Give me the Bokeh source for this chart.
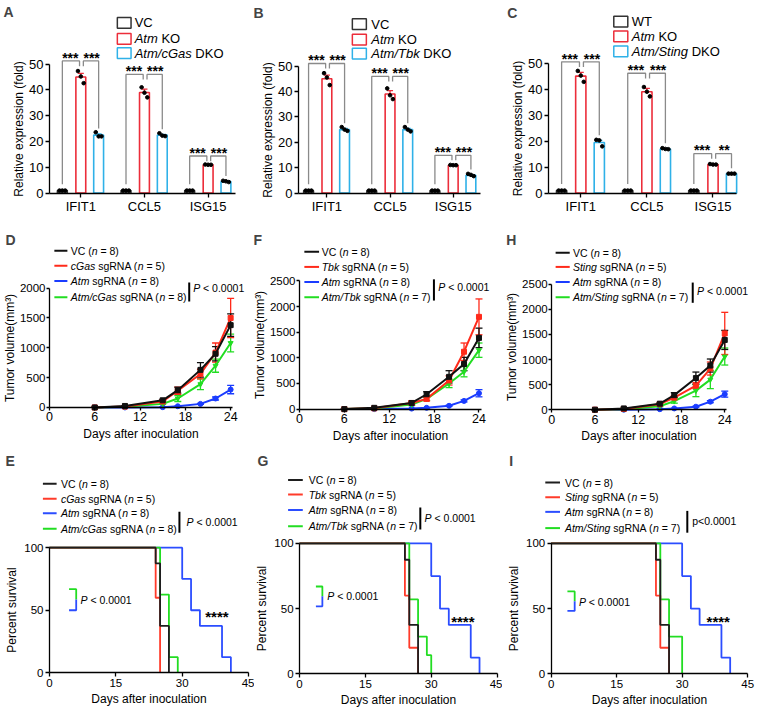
from bokeh.plotting import figure
from bokeh.models import Label, FixedTicker, Range1d, Whisker, TeeHead, ColumnDataSource
from bokeh.layouts import column, row
from bokeh.embed import file_html
from bokeh.resources import INLINE

FONT = "Liberation Sans"

# ======================= DATA =======================
genes = ["IFIT1", "CCL5", "ISG15"]

# Panel A : Atm / cGas
a_vc = [1.0, 1.0, 1.0]
a_ko = [45.0, 39.0, 11.0]
a_ko_sem = [1.4, 1.3, 0.15]
a_dko = [22.5, 22.5, 4.5]
a_dko_sem = [0.5, 0.3, 0.15]
a_vc_pts = [[1.0, 1.0, 1.0], [1.0, 1.0, 1.0], [1.0, 1.0, 1.0]]
a_ko_pts = [[47.3, 45.2, 42.6], [41.0, 38.9, 37.1], [11.1, 11.0, 11.0]]
a_dko_pts = [[23.6, 22.0, 22.0], [23.2, 22.3, 22.1], [4.8, 4.6, 4.3]]
a_brk = [51.2, 46.0, 14.4]
a_sig = [["***", "***"], ["***", "***"], ["***", "***"]]

# Panel B : Atm / Tbk
b_vc = [1.0, 1.0, 1.0]
b_ko = [45.0, 39.0, 11.0]
b_ko_sem = [1.4, 1.3, 0.15]
b_dko = [25.0, 25.0, 7.0]
b_dko_sem = [0.5, 0.5, 0.3]
b_vc_pts = [[1.0, 1.0, 1.0], [1.0, 1.0, 1.0], [1.0, 1.0, 1.0]]
b_ko_pts = [[47.2, 45.5, 42.5], [41.2, 38.5, 37.0], [11.1, 11.0, 11.0]]
b_dko_pts = [[26.0, 25.0, 24.5], [26.0, 25.0, 24.3], [7.6, 7.2, 6.7]]
b_brk = [51.0, 45.9, 14.9]
b_sig = [["***", "***"], ["***", "***"], ["***", "***"]]

# Panel C : Atm / Sting
c_vc = [1.0, 1.0, 1.0]
c_ko = [45.0, 39.0, 11.0]
c_ko_sem = [1.4, 1.3, 0.15]
c_dko = [19.5, 17.0, 7.5]
c_dko_sem = [0.8, 0.2, 0.1]
c_vc_pts = [[1.0, 1.0, 1.0], [1.0, 1.0, 1.0], [1.0, 1.0, 1.0]]
c_ko_pts = [[47.0, 45.2, 42.8], [40.8, 39.0, 37.2], [11.2, 11.0, 11.0]]
c_dko_pts = [[20.5, 20.3, 18.0], [17.3, 17.0, 16.9], [7.5, 7.5, 7.5]]
c_brk = [50.5, 46.1, 15.2]
c_sig = [["***", "***"], ["***", "***"], ["***", "**"]]

# Tumor growth (days after inoculation)
days = [6, 10, 15, 17, 20, 22, 24]

d_vc = [0, 25, 120, 290, 630, 900, 1380]
d_vc_err = [0, 5, 15, 50, 120, 120, 190]
d_ko2 = [0, 15, 100, 280, 560, 920, 1500]
d_ko2_err = [0, 5, 15, 60, 80, 160, 330]
d_atm = [0, 0, 5, 20, 60, 150, 300]
d_atm_err = [0, 0, 3, 5, 10, 25, 70]
d_dko = [0, 10, 60, 150, 390, 700, 1080]
d_dko_err = [0, 3, 10, 50, 90, 110, 150]

f_vc = [0, 25, 120, 290, 630, 880, 1390]
f_vc_err = [0, 5, 15, 50, 120, 130, 190]
f_ko2 = [0, 15, 120, 200, 560, 1120, 1800]
f_ko2_err = [0, 5, 40, 40, 90, 170, 350]
f_atm = [0, 0, 10, 25, 65, 160, 310]
f_atm_err = [0, 0, 3, 5, 10, 20, 70]
f_dko = [0, 10, 90, 200, 500, 730, 1150]
f_dko_err = [0, 3, 20, 30, 80, 100, 140]

h_vc = [0, 25, 120, 290, 630, 880, 1390]
h_vc_err = [0, 5, 15, 50, 120, 130, 190]
h_ko2 = [0, 15, 110, 240, 480, 820, 1520]
h_ko2_err = [0, 5, 15, 40, 60, 130, 420]
h_atm = [0, 0, 10, 25, 60, 160, 310]
h_atm_err = [0, 0, 3, 5, 10, 20, 60]
h_dko = [0, 10, 70, 170, 380, 600, 1060]
h_dko_err = [0, 3, 10, 40, 120, 180, 170]

# Survival (time in days, percent survival)
e_vc_t = [0, 24, 25, 27]
e_vc_s = [100, 87.5, 37.5, 0]
e_ko2_t = [0, 24, 25]
e_ko2_s = [100, 60, 0]
e_atm_t = [0, 30, 32, 34, 39, 41]
e_atm_s = [100, 75, 50, 37.5, 12.5, 0]
e_dko_t = [0, 25, 27, 29]
e_dko_s = [100, 62.5, 12.5, 0]

g_vc_t = [0, 24, 25, 27]
g_vc_s = [100, 87.5, 37.5, 0]
g_ko2_t = [0, 24, 25, 27]
g_ko2_s = [100, 60, 20, 0]
g_atm_t = [0, 30, 32, 34, 39, 41]
g_atm_s = [100, 75, 50, 37.5, 12.5, 0]
g_dko_t = [0, 25, 27, 29, 30]
g_dko_s = [100, 57.1, 28.6, 14.3, 0]

i_vc_t = [0, 24, 25, 27]
i_vc_s = [100, 87.5, 37.5, 0]
i_ko2_t = [0, 24, 25, 27]
i_ko2_s = [100, 60, 20, 0]
i_atm_t = [0, 30, 32, 34, 39, 41]
i_atm_s = [100, 75, 50, 37.5, 12.5, 0]
i_dko_t = [0, 25, 27, 30]
i_dko_s = [100, 57.1, 28.6, 0]

# ======================= HELPERS =======================
SX = 759.0 / 775.0
SY = 712.0 / 728.0

AW = {' ': 278, '(': 333, ')': 333, '*': 389, '.': 278, '/': 278, '<': 584, '=': 584,
      'A': 667, 'B': 667, 'C': 722, 'D': 722, 'E': 667, 'F': 611, 'G': 778, 'H': 722,
      'I': 278, 'K': 667, 'L': 556, 'N': 722, 'O': 778, 'P': 667, 'R': 722, 'S': 667,
      'T': 611, 'V': 667, 'W': 944,
      'a': 556, 'b': 556, 'c': 500, 'd': 556, 'e': 556, 'f': 278, 'g': 556, 'h': 556,
      'i': 222, 'k': 500, 'l': 222, 'm': 833, 'n': 556, 'o': 556, 'p': 556, 'r': 333,
      's': 500, 't': 278, 'u': 556, 'v': 500}


def tw(s, size):
    return sum(AW.get(ch, 556) for ch in s) * size / 1000.0


def add_text(p, x, y, segs, size, align="left", baseline="middle", bold=False, color="black"):
    if len(segs) == 1 and not segs[0][0].startswith(" "):
        t, it = segs[0]
        style = ("bold " if bold else "") + ("italic" if it else "")
        p.add_layout(Label(x=x, y=y, text=t, text_font=FONT, text_font_size=f"{size}px",
                           text_font_style=style.strip() or "normal", text_align=align,
                           text_baseline=baseline, text_color=color))
        return
    off = 0.0
    for t, it in segs:
        stripped = t.lstrip(" ")
        lead = tw(t[:len(t) - len(stripped)], size)
        if stripped:
            p.add_layout(Label(x=x, y=y, x_offset=off + lead, text=stripped, text_font=FONT,
                               text_font_size=f"{size}px",
                               text_font_style="italic" if it else "normal",
                               text_align="left", text_baseline=baseline, text_color=color))
        off += tw(t, size)


def make_panel(W, H, col0, row0, xcal, ycal):
    """Figure whose frame covers the whole panel; positions given in reference pixels."""
    (px1, v1), (px2, v2) = xcal
    kx = (v2 - v1) / (px2 - px1)
    (py1, w1), (py2, w2) = ycal
    ky = (w2 - w1) / (py2 - py1)

    def rx(X):
        return v1 + (X - px1) * kx

    def ry(Y):
        return w1 + (Y - py1) * ky

    p = figure(width=W, height=H,
               x_range=Range1d(rx(col0), rx(col0 + W / SX)),
               y_range=Range1d(ry(row0 + H / SY), ry(row0)),
               min_border_left=0, min_border_right=0, min_border_top=0, min_border_bottom=0,
               output_backend="svg", toolbar_location=None)
    p.outline_line_color = None
    p.xgrid.visible = False
    p.ygrid.visible = False
    p.background_fill_color = "white"
    p.border_fill_color = "white"
    return p, rx, ry


def style_axes(p, xlabel, ylabel, tick_size, x_at, y_at, tick_out=4, tick_standoff=2,
               label_standoff=2, label_size=12):
    for ax in (p.xaxis[0], p.yaxis[0]):
        ax.axis_line_width = 1.3
        ax.axis_line_color = "black"
        ax.major_tick_line_width = 1.3
        ax.major_tick_line_color = "black"
        ax.major_tick_out = tick_out
        ax.major_tick_in = 0
        ax.minor_tick_line_color = None
        ax.major_label_text_font = FONT
        ax.major_label_text_font_size = f"{tick_size}px"
        ax.major_label_text_color = "black"
        ax.major_label_standoff = tick_standoff
        ax.axis_label_text_font = FONT
        ax.axis_label_text_font_size = f"{label_size}px"
        ax.axis_label_text_font_style = "normal"
        ax.axis_label_text_color = "black"
        ax.axis_label_standoff = label_standoff
    p.xaxis[0].fixed_location = x_at
    p.yaxis[0].fixed_location = y_at
    if xlabel:
        p.xaxis.axis_label = xlabel
    if ylabel:
        p.yaxis.axis_label = ylabel


def letter(p, rx, ry, X, Y, t):
    p.add_layout(Label(x=rx(X), y=ry(Y), text=t, text_font=FONT, text_font_size="14px",
                       text_font_style="bold", text_align="left", text_baseline="middle"))


def whiskers(p, xs, mid, err, color, head=6):
    src = ColumnDataSource(dict(x=list(xs), u=[m + e for m, e in zip(mid, err)],
                                l=[m - e for m, e in zip(mid, err)]))
    w = Whisker(source=src, base="x", upper="u", lower="l", line_color=color, line_width=1.3,
                upper_head=TeeHead(size=head, line_color=color, line_width=1.3),
                lower_head=TeeHead(size=head, line_color=color, line_width=1.3))
    p.add_layout(w)


COL_VC = "#333333"
COL_KO = "#ec2d3a"
COL_DKO = "#2fb1e8"
GRAY = "#8a8a8a"


def bar_panel(cfg):
    p, rx, ry = make_panel(cfg["W"], cfg["H"], cfg["col0"], cfg["row0"], cfg["xcal"], cfg["ycal"])
    style_axes(p, None, "Relative expression (fold)", 13, 0, rx(cfg["axis_x"][0]),
               tick_out=4, tick_standoff=2, label_standoff=0)
    p.xaxis.ticker = FixedTicker(ticks=[1, 2, 3])
    p.xaxis.major_label_overrides = {1: genes[0], 2: genes[1], 3: genes[2]}
    p.xaxis.bounds = (rx(cfg["axis_x"][0]), rx(cfg["axis_x"][1]))
    p.yaxis.ticker = FixedTicker(ticks=[0, 10, 20, 30, 40, 50])
    p.yaxis.bounds = (0, 50)
    g = [1, 2, 3]
    ovc, odk, bw = -0.29, 0.28, 0.155
    xs_vc = [v + ovc for v in g]
    xs_dk = [v + odk for v in g]
    p.vbar(x=xs_vc, top=cfg["vc"], width=bw, fill_color="white", line_color=COL_VC, line_width=1.6)
    p.vbar(x=g, top=cfg["ko"], width=bw, fill_color="white", line_color=COL_KO, line_width=1.6)
    p.vbar(x=xs_dk, top=cfg["dko"], width=bw, fill_color="white", line_color=COL_DKO, line_width=1.6)
    whiskers(p, g, cfg["ko"], cfg["ko_sem"], COL_KO)
    whiskers(p, xs_dk, cfg["dko"], cfg["dko_sem"], COL_DKO)
    jit = [-0.045, 0.0, 0.045]
    px, py = [], []
    for xs, pts in ((xs_vc, cfg["vc_pts"]), (g, cfg["ko_pts"]), (xs_dk, cfg["dko_pts"])):
        for xc, trip in zip(xs, pts):
            for j, v in zip(jit, trip):
                px.append(xc + j)
                py.append(v)
    p.scatter(px, py, size=3.6, color="black")
    # significance brackets
    k = cfg["ycal"][1][1] / (cfg["ycal"][0][0] - cfg["ycal"][1][0])  # data per px
    mxs, mys = [], []
    for i in range(3):
        b = cfg["brk"][i]
        xl, xr1, xr2 = xs_vc[i], g[i] - 0.02, g[i] + 0.04
        mxs.append([xl, xl, xr1, xr1])
        mys.append([cfg["vc"][i] + 2.5, b, b, b - 2.0])
        mxs.append([xr2, xr2, xs_dk[i], xs_dk[i]])
        mys.append([b - 2.0, b, b, cfg["dko"][i] + cfg["dko_sem"][i] + 2.0])
        ys = b + (6.7 - 3.4) * k
        add_text(p, (xl + xr1) / 2 - 0.01, ys, [(cfg["sig"][i][0], False)], 14, align="center",
                 baseline="middle", bold=True)
        add_text(p, (xr2 + xs_dk[i]) / 2 + 0.01, ys, [(cfg["sig"][i][1], False)], 14, align="center",
                 baseline="middle", bold=True)
    p.multi_line(mxs, mys, line_color=GRAY, line_width=1.3)
    # legend
    bx0, bx1 = cfg["box_x"]
    for yy, col, segs in zip(cfg["rows_y"], (COL_VC, COL_KO, COL_DKO), cfg["legend"]):
        p.quad(left=rx(bx0), right=rx(bx1), top=ry(yy - 5.5), bottom=ry(yy + 5.5),
               fill_color="white", line_color=col, line_width=1.5)
        add_text(p, rx(cfg["text_x"]), ry(yy), segs, 13)
    letter(p, rx, ry, cfg["letter"][0], cfg["letter"][1], cfg["letter"][2])
    return p


LC = {"vc": "#111111", "ko2": "#ff2a1a", "atm": "#1a3cff", "dko": "#22dd22"}


def legend_lines(p, rx, ry, lx, tx, rows, labels, colors, size):
    for yy, segs, col in zip(rows, labels, colors):
        p.segment(x0=[rx(lx[0])], y0=[ry(yy)], x1=[rx(lx[1])], y1=[ry(yy)],
                  line_color=col, line_width=2)
        add_text(p, rx(tx), ry(yy), segs, size)


def pbar(p, rx, ry, bar, text, segs, size):
    p.segment(x0=[rx(bar[0])], y0=[ry(bar[1])], x1=[rx(bar[0])], y1=[ry(bar[2])],
              line_color="black", line_width=2)
    add_text(p, rx(text[0]), ry(text[1]), segs, size)


def growth_panel(cfg):
    p, rx, ry = make_panel(cfg["W"], cfg["H"], cfg["col0"], cfg["row0"], cfg["xcal"], cfg["ycal"])
    style_axes(p, "Days after inoculation", "Tumor volume(mm\u00b3)", 11.5, 0, 0,
               tick_out=3, tick_standoff=1, label_standoff=0)
    p.xaxis[0].major_label_text_font_size = "12.5px"
    p.xaxis[0].major_label_standoff = 2
    p.xaxis[0].axis_label_standoff = 2
    p.xaxis.ticker = FixedTicker(ticks=[0, 6, 12, 18, 24])
    p.xaxis.bounds = (0, 24.3)
    ymax = cfg["ymax"]
    p.yaxis.ticker = FixedTicker(ticks=list(range(0, ymax + 1, 500)))
    p.yaxis.bounds = (0, ymax)
    markers = {"vc": "square", "ko2": "square", "atm": "circle", "dko": "inverted_triangle"}
    for key in ("atm", "dko", "ko2", "vc"):
        vals, errs = cfg["series"][key]
        col = LC[key]
        p.line(days, vals, line_color=col, line_width=2)
        whiskers(p, days, vals, errs, col, head=7)
        p.scatter(days, vals, marker=markers[key], size=5, color=col)
    legend_lines(p, rx, ry, cfg["lx"], cfg["tx"], cfg["rows"], cfg["labels"],
                 [LC["vc"], LC["ko2"], LC["atm"], LC["dko"]], 10.5)
    pbar(p, rx, ry, cfg["pbar"], cfg["ptext"], [("P", True), (" < 0.0001", False)], 10.5)
    letter(p, rx, ry, cfg["letter"][0], cfg["letter"][1], cfg["letter"][2])
    return p


SC = {"vc": "#1e1e1e", "ko2": "#ff3b2a", "atm": "#2b4dff", "dko": "#22dd22"}


def surv_panel(cfg):
    p, rx, ry = make_panel(cfg["W"], cfg["H"], cfg["col0"], cfg["row0"], cfg["xcal"], cfg["ycal"])
    style_axes(p, "Days after inoculation", "Percent survival", 11.5, 0, 0,
               tick_out=4, tick_standoff=2, label_standoff=2)
    p.xaxis.ticker = FixedTicker(ticks=[0, 15, 30, 45])
    p.xaxis.bounds = (0, 45)
    p.yaxis.ticker = FixedTicker(ticks=[0, 50, 100])
    p.yaxis.bounds = (0, 100)
    for key in ("atm", "dko", "ko2", "vc"):
        t, s = cfg["series"][key]
        p.step(t, s, mode="after", line_color=SC[key], line_width=1.8)
    legend_lines(p, rx, ry, cfg["lx"], cfg["tx"], cfg["rows"], cfg["labels"],
                 [SC["vc"], SC["ko2"], SC["atm"], SC["dko"]], 10.5)
    pbar(p, rx, ry, cfg["pbar"], cfg["ptext"], cfg["psegs"], 10.5)
    # inner green/blue bracket
    bx0, bx1, by0, bym, by1 = cfg["brk"]
    p.multi_line([[rx(bx0), rx(bx1), rx(bx1)], [rx(bx1), rx(bx1), rx(bx0)]],
                 [[ry(by0), ry(by0), ry(bym)], [ry(bym), ry(by1), ry(by1)]],
                 line_color=[SC["dko"], SC["atm"]], line_width=1.8)
    add_text(p, rx(cfg["btext"][0]), ry(cfg["btext"][1]), [("P", True), (" < 0.0001", False)], 10.5)
    add_text(p, rx(cfg["stars"][0]), ry(cfg["stars"][1] + 3.5), [("****", False)], 15,
             align="center", baseline="middle", bold=True)
    letter(p, rx, ry, cfg["letter"][0], cfg["letter"][1], cfg["letter"][2])
    return p


def leg(gene, n2, n4):
    return [
        [("VC (", False), ("n", True), (" = 8)", False)],
        [(gene, True), (" sgRNA (", False), ("n", True), (f" = {n2})", False)],
        [("Atm", True), (" sgRNA (", False), ("n", True), (" = 8)", False)],
        [("Atm/" + gene, True), (" sgRNA (", False), ("n", True), (f" = {n4})", False)],
    ]


# ======================= PANELS =======================
pA = bar_panel(dict(W=250, H=227, col0=0, row0=0,
                    xcal=((82, 1), (212, 3)), ycal=((197, 0), (65, 50)), axis_x=(50, 240),
                    vc=a_vc, ko=a_ko, ko_sem=a_ko_sem, dko=a_dko, dko_sem=a_dko_sem,
                    vc_pts=a_vc_pts, ko_pts=a_ko_pts, dko_pts=a_dko_pts, brk=a_brk, sig=a_sig,
                    box_x=(119.3, 133.3), text_x=137, rows_y=(22.8, 39.3, 53.7),
                    legend=[[("VC", False)], [("Atm", True), (" KO", False)],
                            [("Atm/cGas", True), (" DKO", False)]],
                    letter=(3, 12, "A")))

pB = bar_panel(dict(W=249, H=227, col0=255, row0=0,
                    xcal=((333, 1), (462, 3)), ycal=((197, 0), (67, 50)), axis_x=(304, 490),
                    vc=b_vc, ko=b_ko, ko_sem=b_ko_sem, dko=b_dko, dko_sem=b_dko_sem,
                    vc_pts=b_vc_pts, ko_pts=b_ko_pts, dko_pts=b_dko_pts, brk=b_brk, sig=b_sig,
                    box_x=(359, 373.3), text_x=378.3, rows_y=(24.2, 40, 54.3),
                    legend=[[("VC", False)], [("Atm", True), (" KO", False)],
                            [("Atm/Tbk", True), (" DKO", False)]],
                    letter=(258, 12.5, "B")))

pC = bar_panel(dict(W=260, H=227, col0=510, row0=0,
                    xcal=((593, 1), (728, 3)), ycal=((197, 0), (64, 50)), axis_x=(560, 752),
                    vc=c_vc, ko=c_ko, ko_sem=c_ko_sem, dko=c_dko, dko_sem=c_dko_sem,
                    vc_pts=c_vc_pts, ko_pts=c_ko_pts, dko_pts=c_dko_pts, brk=c_brk, sig=c_sig,
                    box_x=(626.7, 641), text_x=645, rows_y=(21.7, 36.7, 52),
                    legend=[[("WT", False)], [("Atm", True), (" KO", False)],
                            [("Atm/Sting", True), (" DKO", False)]],
                    letter=(518, 12.5, "C")))

pD = growth_panel(dict(W=250, H=225, col0=0, row0=232,
                       xcal=((50, 0), (235, 24)), ycal=((416, 0), (294, 2000)), ymax=2000,
                       series={"vc": (d_vc, d_vc_err), "ko2": (d_ko2, d_ko2_err),
                               "atm": (d_atm, d_atm_err), "dko": (d_dko, d_dko_err)},
                       lx=(55, 68.3), tx=71.7, rows=(255.7, 271, 286.7, 303.3),
                       labels=leg("cGas", 5, 8), pbar=(192.7, 288.3, 307.7), ptext=(196.7, 294.3),
                       letter=(5, 245, "D")))

pF = growth_panel(dict(W=249, H=225, col0=255, row0=232,
                       xcal=((305, 0), (488.3, 24)), ycal=((417.7, 0), (286.7, 2500)), ymax=2500,
                       series={"vc": (f_vc, f_vc_err), "ko2": (f_ko2, f_ko2_err),
                               "atm": (f_atm, f_atm_err), "dko": (f_dko, f_dko_err)},
                       lx=(310, 325), tx=327.7, rows=(256.7, 272.3, 287.7, 303.3),
                       labels=leg("Tbk", 5, 7), pbar=(442.3, 285, 306.7), ptext=(446.7, 293.3),
                       letter=(258, 245, "F")))

pH = growth_panel(dict(W=260, H=225, col0=510, row0=232,
                       xcal=((563.3, 0), (740, 24)), ycal=((418.3, 0), (290, 2500)), ymax=2500,
                       series={"vc": (h_vc, h_vc_err), "ko2": (h_ko2, h_ko2_err),
                               "atm": (h_atm, h_atm_err), "dko": (h_dko, h_dko_err)},
                       lx=(567.3, 581.7), tx=585, rows=(257.7, 272.3, 287.7, 303.3),
                       labels=leg("Sting", 5, 7), pbar=(707.3, 288.3, 309), ptext=(711.7, 296.7),
                       letter=(517, 245, "H")))

pE = surv_panel(dict(W=254, H=260, col0=0, row0=462,
                     xcal=((50, 0), (253.3, 45)), ycal=((687.3, 0), (559.3, 100)),
                     series={"vc": (e_vc_t, e_vc_s), "ko2": (e_ko2_t, e_ko2_s),
                             "atm": (e_atm_t, e_atm_s), "dko": (e_dko_t, e_dko_s)},
                     lx=(43.3, 57.3), tx=61.7, rows=(494, 509.3, 524, 540),
                     labels=leg("cGas", 5, 8), pbar=(182.7, 522.7, 544), ptext=(190, 533.3),
                     psegs=[("P", True), (" < 0.0001", False)],
                     brk=(70, 77.3, 601.7, 612.3, 623.3), btext=(81.7, 613.3),
                     stars=(221, 625.7), letter=(5, 471, "E")))

pG = surv_panel(dict(W=248, H=260, col0=259, row0=462,
                     xcal=((305, 0), (506.7, 45)), ycal=((688.3, 0), (555, 100)),
                     series={"vc": (g_vc_t, g_vc_s), "ko2": (g_ko2_t, g_ko2_s),
                             "atm": (g_atm_t, g_atm_s), "dko": (g_dko_t, g_dko_s)},
                     lx=(293.3, 308.3), tx=314.3, rows=(490, 505, 520.7, 537.3),
                     labels=leg("Tbk", 5, 7), pbar=(428.3, 518.3, 540.7), ptext=(432.7, 529.3),
                     psegs=[("P", True), (" < 0.0001", False)],
                     brk=(321.7, 328.3, 599, 609, 619.3), btext=(333.3, 608.3),
                     stars=(471.7, 631.7), letter=(262, 471, "G")))

pI = surv_panel(dict(W=257, H=260, col0=513, row0=462,
                     xcal=((562.7, 0), (763.3, 45)), ycal=((688.3, 0), (555, 100)),
                     series={"vc": (i_vc_t, i_vc_s), "ko2": (i_ko2_t, i_ko2_s),
                             "atm": (i_atm_t, i_atm_s), "dko": (i_dko_t, i_dko_s)},
                     lx=(556.7, 571.7), tx=576.7, rows=(492.7, 507.7, 522.7, 539.3),
                     labels=leg("Sting", 5, 7), pbar=(701.7, 521.7, 544), ptext=(706.7, 531.7),
                     psegs=[("p<0.0001", False)],
                     brk=(579.3, 586.7, 604, 614, 624), btext=(591, 615),
                     stars=(733.3, 631.7), letter=(520, 471, "I")))

layout = column(row(pA, pB, pC), row(pD, pF, pH), row(pE, pG, pI))

with open("out.html", "w") as fh:
    fh.write(file_html(layout, INLINE))
